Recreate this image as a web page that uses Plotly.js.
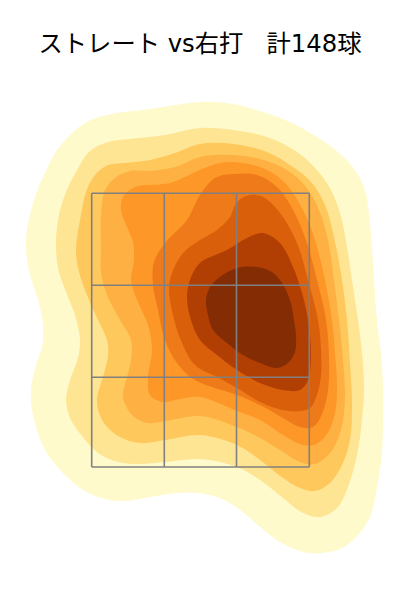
<!DOCTYPE html>
<html><head><meta charset="utf-8">
<script src="https://cdn.plot.ly/plotly-3.0.1.min.js"></script>
<style>html,body{margin:0;padding:0;background:#fff}</style></head>
<body><div id="chart" style="width:400px;height:600px"></div>
<script>
const titleText = "ストレート vs右打\u00a0\u00a0\u00a0計148球";
const bandColors = ["#FFFACC","#FEE594","#FEC85C","#FEB142","#FD9727","#EE7A19","#D95F0B","#B13F04","#842D04"];
// density contour outlines, outermost first, as [x, y] pairs
const band1 = [[200,102],[150,109],[107,115],[85,123],[60,146],[43,177],[33,203],[27,230],[26,250],[30,275],[38,300],[43,325],[42,347],[36,365],[31,390],[33,415],[45,450],[63,473],[83,490],[105,499],[125,501],[150,497],[177,493],[200,493],[222,499],[240,510],[260,527],[280,542],[303,552],[323,553],[342,548],[358,535],[370,517],[377,487],[382,453],[383,420],[383,387],[381,353],[377,320],[373,263],[370,223],[365,190],[355,170],[338,152],[317,137],[290,122],[263,112],[233,104],[200,102]];
const band2 = [[200,128],[165,135],[130,139],[108,142],[90,151],[77,170],[66,192],[59,215],[56,240],[58,268],[66,292],[75,315],[80,340],[78,358],[70,380],[66,400],[70,418],[82,436],[98,453],[118,462],[140,464],[165,462],[200,459],[237,467],[260,480],[283,498],[303,513],[320,517],[337,508],[348,487],[357,455],[362,420],[364,387],[362,353],[358,320],[353,287],[347,247],[340,213],[331,190],[317,170],[297,152],[270,138],[233,130],[200,128]];
const band3 = [[200,144],[175,153],[150,160],[125,163],[108,165],[95,175],[86,192],[81,215],[76,250],[79,272],[87,295],[98,320],[107,340],[108,355],[103,377],[97,400],[102,420],[118,436],[140,443],[165,440],[200,435],[237,445],[260,460],[283,478],[300,488],[315,491],[330,483],[342,465],[350,440],[352,403],[350,363],[347,320],[342,280],[334,237],[325,205],[312,183],[293,167],[267,152],[233,144],[200,144]];
const band4 = [[200,157],[175,167],[150,171],[130,171],[115,178],[105,190],[101,215],[101,247],[101,272],[107,295],[120,320],[131,340],[131,360],[127,377],[123,397],[132,415],[147,423],[165,421],[200,416],[237,427],[260,438],[283,452],[300,462],[315,464],[330,453],[341,430],[345,397],[343,360],[339,320],[334,280],[328,240],[319,210],[306,187],[287,170],[260,159],[230,155],[200,157]];
const band5 = [[200,170],[170,183],[135,187],[123,197],[121,210],[127,227],[133,242],[134,260],[131,280],[137,300],[148,325],[152,350],[148,377],[150,395],[163,402],[180,399],[200,397],[237,411],[260,420],[283,435],[300,444],[314,445],[327,434],[335,413],[337,387],[335,353],[332,320],[325,280],[315,240],[303,210],[285,183],[267,170],[243,163],[220,163],[200,170]];
const band6 = [[233,174],[215,178],[200,195],[187,220],[165,243],[154,262],[153,285],[158,310],[165,340],[177,363],[195,380],[237,395],[260,405],[283,418],[300,427],[313,427],[322,414],[328,390],[329,357],[326,320],[317,280],[307,243],[293,210],[277,187],[257,175],[233,174]];
const band7 = [[250,195],[237,202],[230,217],[217,230],[200,240],[183,253],[172,273],[169,290],[173,315],[182,343],[195,365],[217,377],[237,388],[260,402],[283,410],[300,411],[310,408],[317,395],[321,375],[321,350],[318,320],[308,280],[297,243],[280,213],[263,197],[250,195]];
const band8 = [[263,233],[247,238],[227,250],[200,263],[190,280],[187,298],[191,320],[200,340],[217,355],[237,370],[260,383],[283,390],[300,390],[308,380],[311,353],[308,320],[302,293],[293,267],[280,243],[263,233]];
const band9 = [[257,267],[272,272],[282,283],[290,300],[294,320],[296,337],[295,352],[288,363],[277,368],[260,363],[243,355],[227,343],[213,330],[208,315],[206,300],[210,287],[220,277],[237,268],[257,267]];
const bands = [band1,band2,band3,band4,band5,band6,band7,band8,band9];
const gridX = [91.7,164.3,236.5,309.3];
const gridY = [193.3,285.3,377.3,467];

const traces = bands.map((pts,i)=>({
  type:'scatter',mode:'lines',x:pts.map(p=>p[0]),y:pts.map(p=>p[1]),
  fill:'toself',fillcolor:bandColors[i],
  line:{width:0,shape:'spline',smoothing:1,color:bandColors[i]},hoverinfo:'skip',showlegend:false
}));
const gridLine = {color:'#808080',width:1.6};
gridX.forEach(x=>traces.push({type:'scatter',mode:'lines',x:[x,x],y:[gridY[0],gridY[3]],line:gridLine,hoverinfo:'skip',showlegend:false}));
gridY.forEach(y=>traces.push({type:'scatter',mode:'lines',x:[gridX[0],gridX[3]],y:[y,y],line:gridLine,hoverinfo:'skip',showlegend:false}));

Plotly.newPlot('chart',traces,{
  width:400,height:600,margin:{l:0,r:0,t:0,b:0},
  paper_bgcolor:'#fff',plot_bgcolor:'#fff',showlegend:false,
  title:{text:titleText,x:0.5,xanchor:'center',y:1-43/600,yanchor:'middle',font:{family:'"DejaVu Sans","Noto Sans CJK JP",sans-serif',size:24.3,color:'#000'}},
  xaxis:{range:[0,400],visible:false,fixedrange:true},
  yaxis:{range:[600,0],visible:false,fixedrange:true}
},{displayModeBar:false,staticPlot:true});
</script></body></html>
